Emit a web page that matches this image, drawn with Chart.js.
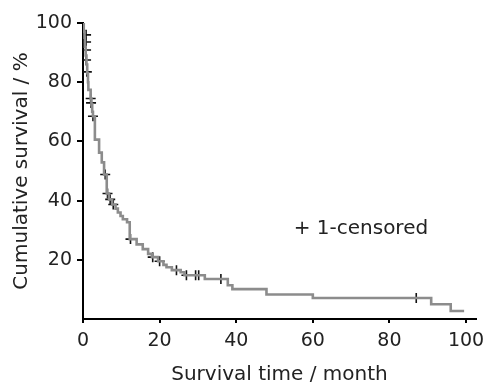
<!DOCTYPE html>
<html>
<head>
<meta charset="utf-8">
<script src="https://cdn.jsdelivr.net/npm/chart.js@4/dist/chart.umd.min.js"></script>
<style>
  html, body { margin: 0; padding: 0; background: #ffffff; }
  #c { display: block; }
</style>
</head>
<body>
<canvas id="c" width="493" height="387"></canvas>
<script>
// Kaplan-Meier step points: time (month) and cumulative survival (%) after each event
const kmTimes = [0, 0.2, 0.4, 0.5, 0.7, 0.9, 1.1, 1.3, 1.4, 2.0, 2.2, 2.4, 2.6, 3.1, 4.2, 4.9, 5.5, 6.2, 6.8, 7.6, 8.5, 9.1, 9.8, 10.4, 11.5, 12.2, 14.0, 15.6, 17.0, 18.0, 19.6, 21.0, 21.8, 23.2, 25.5, 26.5, 31.8, 37.8, 39.0, 47.9, 60.0, 90.9, 96.0, 99.5];
const kmSurvival = [100, 97, 95, 92, 89, 86, 83, 80, 77.4, 74.5, 72.5, 70, 68.5, 60.6, 56.2, 52.9, 48.8, 42.4, 40.4, 38.7, 37.3, 36, 34.8, 33.7, 32.7, 27, 25.2, 23.6, 22, 20.9, 19.5, 18.3, 17.5, 16.5, 15.8, 14.8, 13.5, 11.4, 10.1, 8.3, 7.1, 5, 2.7, 2.7];

// Censored observations
const censorTimes = [0.8, 0.8, 0.8, 0.8, 1.0, 2.0, 2.1, 2.6, 5.8, 6.4, 7.1, 7.9, 12.4, 18.2, 20.0, 24.4, 27.0, 29.4, 30.2, 36.0, 87.0];
const censorSurvival = [96, 93.6, 90.9, 87.5, 83.5, 74.5, 73, 68.5, 48.8, 42.4, 40.4, 38.7, 27, 20.9, 19.5, 16.5, 14.8, 14.8, 14.8, 13.5, 7.1];

const xTicks = [0, 20, 40, 60, 80, 100];
const yTicks = [20, 40, 60, 80, 100];

const xTitle = 'Survival time / month';
const yTitle = 'Cumulative survival / %';
const noteText = '+ 1-censored';

const TICK_FONT = { family: '"DejaVu Sans", sans-serif', size: 19 };
const TITLE_FONT = { family: '"DejaVu Sans", sans-serif', size: 20 };
const TXT = '#222222';

const kmPoints = kmTimes.map((t, i) => ({ x: t, y: kmSurvival[i] }));
const censorPoints = censorTimes.map((t, i) => ({ x: t, y: censorSurvival[i] }));

const notePlugin = {
  id: 'note',
  afterDraw(chart) {
    const { ctx, scales } = chart;
    ctx.save();
    ctx.font = `20px ${TICK_FONT.family}`;
    ctx.fillStyle = TXT;
    ctx.textAlign = 'left';
    ctx.textBaseline = 'middle';
    ctx.fillText(noteText, scales.x.getPixelForValue(55), scales.y.getPixelForValue(30.5));
    ctx.restore();
  }
};

new Chart(document.getElementById('c'), {
  type: 'line',
  data: {
    datasets: [
      {
        data: kmPoints,
        stepped: 'before',
        borderColor: '#8c8c8c',
        borderWidth: 2.6,
        pointRadius: 0,
        fill: false
      },
      {
        data: censorPoints,
        showLine: false,
        pointStyle: 'cross',
        pointRadius: 5,
        pointBorderColor: '#111111',
        pointBorderWidth: 1.6,
        pointBackgroundColor: '#111111'
      }
    ]
  },
  options: {
    responsive: false,
    animation: false,
    devicePixelRatio: 1,
    layout: { padding: { top: 23, right: 17, bottom: 0, left: 0 } },
    plugins: { legend: { display: false }, tooltip: { enabled: false } },
    scales: {
      x: {
        type: 'linear',
        min: 0,
        max: 102.6,
        afterBuildTicks: s => { s.ticks = xTicks.map(v => ({ value: v })); },
        afterFit: s => { s.height = 68; },
        ticks: { font: TICK_FONT, color: TXT, padding: 7, maxRotation: 0, autoSkip: false },
        grid: { display: true, drawOnChartArea: false, drawTicks: true, tickLength: 4, color: '#000000', lineWidth: 2 },
        border: { display: true, color: '#000000', width: 2 },
        title: { display: true, text: xTitle, font: TITLE_FONT, color: TXT, padding: { top: 0, bottom: 0 } }
      },
      y: {
        type: 'linear',
        min: 0,
        max: 100,
        afterBuildTicks: s => { s.ticks = yTicks.map(v => ({ value: v })); },
        afterFit: s => { s.width = 83; },
        ticks: { font: TICK_FONT, color: TXT, padding: 5 },
        grid: { display: true, drawOnChartArea: false, drawTicks: true, tickLength: 6, color: '#000000', lineWidth: 2 },
        border: { display: true, color: '#000000', width: 2 },
        title: { display: true, text: yTitle, font: TITLE_FONT, color: TXT, padding: { top: 10, bottom: 0 } }
      }
    }
  },
  plugins: [notePlugin]
});
</script>
</body>
</html>
